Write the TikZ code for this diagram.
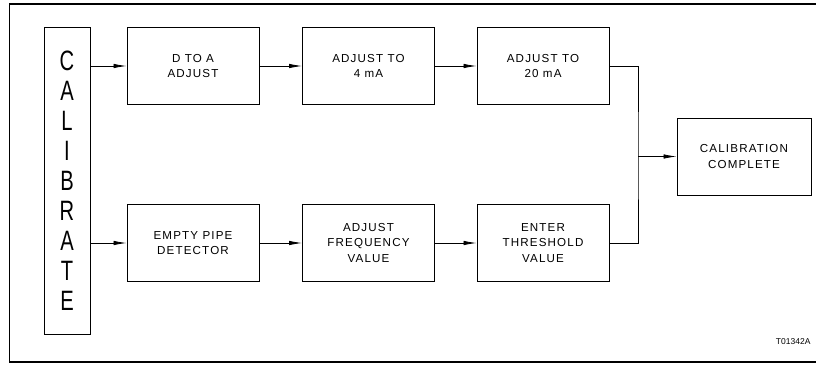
\documentclass[tikz,border=0pt]{standalone}
\usepackage{fontspec}
\setmainfont{Liberation Sans}
\newfontfamily\trackfont[LetterSpace=10]{Liberation Sans}
\newfontfamily\tallfont[FakeStretch=0.72]{Liberation Sans}
\usetikzlibrary{arrows.meta,positioning}
\tikzset{
  stepbox/.style={draw, line width=0.9pt, align=center, minimum width=132pt,
    minimum height=77pt, inner sep=0pt, font=\trackfont\fontsize{11.6}{15.5}\selectfont},
  calbox/.style={draw, line width=0.9pt, align=center, minimum width=46pt,
    minimum height=307pt, inner sep=0pt, font=\tallfont\fontsize{28}{30}\selectfont},
  arr/.style={-{Latex[length=13pt,width=4.5pt]}, line width=0.8pt},
  link/.style={line width=0.8pt},
  frameline/.style={line width=1.1pt}
}
\begin{document}
\begin{tikzpicture}[x=1pt,y=-1pt]
  \useasboundingbox (0,0) rectangle (816,364);
  % outer frame
  \draw[frameline] (816,4) -- (9.5,4) -- (9.5,362) -- (816,362);

  \node[calbox] (calib) at (67,180.5) {C\\A\\L\\I\\B\\R\\A\\T\\E};

  % upper row
  \node[stepbox] (dtoa) at (193,66) {D TO A\\ADJUST};
  \node[stepbox] (four) at (368.5,66) {ADJUST TO\\4 mA};
  \node[stepbox] (twenty) at (543,66) {ADJUST TO\\20 mA};

  % lower row
  \node[stepbox] (empty) at (193,243) {EMPTY PIPE\\DETECTOR};
  \node[stepbox] (freq) at (368.5,243) {ADJUST\\FREQUENCY\\VALUE};
  \node[stepbox] (thresh) at (543,243) {ENTER\\THRESHOLD\\VALUE};

  \node[stepbox, minimum width=134pt] (done) at (744,156.5) {CALIBRATION\\COMPLETE};

  \coordinate (join) at (638,156.5);

  \draw[arr] (calib.east |- dtoa.west) -- (dtoa.west);
  \draw[arr] (dtoa) -- (four);
  \draw[arr] (four) -- (twenty);
  \draw[arr] (calib.east |- empty.west) -- (empty.west);
  \draw[arr] (empty) -- (freq);
  \draw[arr] (freq) -- (thresh);
  \draw[link] (twenty.east) -| (join) |- (thresh.east);
  \draw[arr] (join) -- (done.west);

  \node[anchor=east, font=\fontsize{8.5}{10}\selectfont] (tag) at (814,342) {T01342A};
\end{tikzpicture}
\end{document}
